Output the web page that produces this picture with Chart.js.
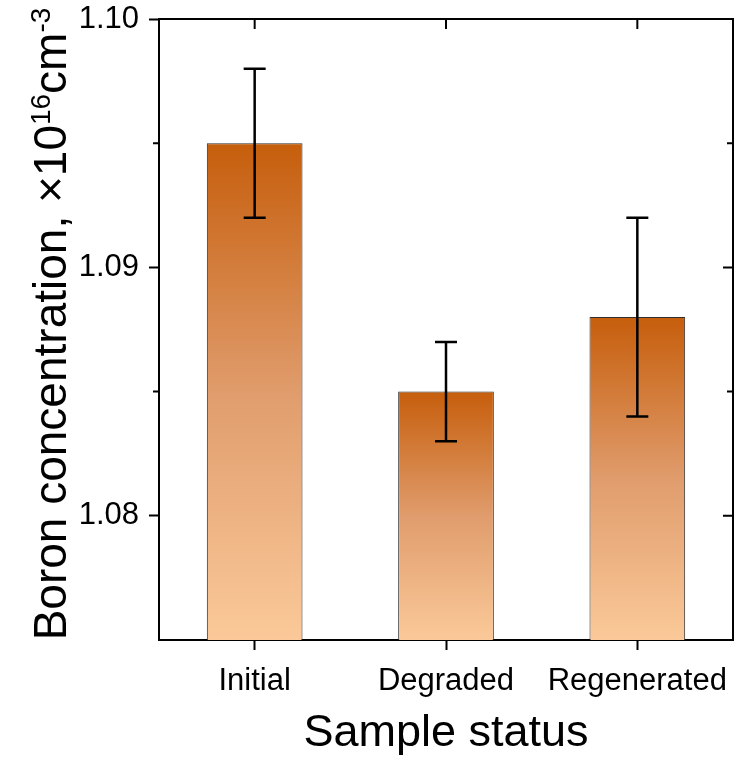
<!DOCTYPE html>
<html lang="en">
<head>
    <meta charset="UTF-8">
    <title>Boron concentration</title>
    <script src="https://cdn.jsdelivr.net/npm/chart.js@4.4.1/dist/chart.umd.min.js"></script>
    <style>
        html, body { margin: 0; padding: 0; background: #fff; }
        #wrap { width: 739px; height: 761px; }
    </style>
</head>
<body>
    <div id="wrap"><canvas id="paint" width="739" height="761"></canvas></div>
    <script>
        var categories = ["Initial", "Degraded", "Regenerated"]
        var boron = [1.095, 1.085, 1.088]
        var boronErr = [0.003, 0.002, 0.004]
        var majorTicks = [1.08, 1.09, 1.10]
        var minorTicks = [1.085, 1.095]

        var FONT = 'Arial, "Liberation Sans", sans-serif'
        Chart.defaults.font.family = FONT
        Chart.defaults.color = "#000"

        // bar fill: dark orange on top fading to peach at the base
        function barFill(c) {
            var chart = c.chart, y = chart.scales.y
            if (!y || c.type !== "data") return "#c8620f"
            var top = y.getPixelForValue(c.raw)
            var bottom = y.getPixelForValue(y.min)
            if (!isFinite(top) || !isFinite(bottom) || top === bottom) return "#c8620f"
            var g = chart.ctx.createLinearGradient(0, top, 0, bottom)
            g.addColorStop(0, "#c65e0c")
            g.addColorStop(0.5, "#e09c6c")
            g.addColorStop(1, "#fbc999")
            return g
        }

        // error bars, mirrored frame ticks and the y title with superscripts
        var decorations = {
            id: "decorations",
            afterDatasetsDraw: function (chart) {
                var ctx = chart.ctx, y = chart.scales.y
                var meta = chart.getDatasetMeta(0)
                ctx.save()
                ctx.strokeStyle = "#000"
                ctx.lineWidth = 2.5
                for (var i = 0; i < boron.length; i++) {
                    var x = meta.data[i].x
                    var hi = y.getPixelForValue(boron[i] + boronErr[i])
                    var lo = y.getPixelForValue(boron[i] - boronErr[i])
                    ctx.beginPath()
                    ctx.moveTo(x, hi); ctx.lineTo(x, lo)
                    ctx.moveTo(x - 11, hi); ctx.lineTo(x + 11, hi)
                    ctx.moveTo(x - 11, lo); ctx.lineTo(x + 11, lo)
                    ctx.stroke()
                }
                ctx.restore()
            },
            afterDraw: function (chart) {
                var ctx = chart.ctx, a = chart.chartArea
                var y = chart.scales.y, xs = chart.scales.x
                ctx.save()
                ctx.strokeStyle = "#000"
                ctx.lineWidth = 2
                ctx.beginPath()
                ctx.moveTo(a.left - 1, a.top); ctx.lineTo(a.right, a.top)
                ctx.moveTo(a.right, a.top - 1); ctx.lineTo(a.right, a.bottom + 1)
                majorTicks.forEach(function (v) {
                    var p = y.getPixelForValue(v)
                    ctx.moveTo(a.right, p); ctx.lineTo(a.right - 10, p)
                })
                minorTicks.forEach(function (v) {
                    var p = y.getPixelForValue(v)
                    ctx.moveTo(a.left, p); ctx.lineTo(a.left - 6, p)
                    ctx.moveTo(a.right, p); ctx.lineTo(a.right - 6, p)
                })
                categories.forEach(function (c, i) {
                    var p = xs.getPixelForValue(i)
                    ctx.moveTo(p, a.top); ctx.lineTo(p, a.top + 10)
                })
                ctx.stroke()

                // rotated y title
                var big = "46px " + FONT, small = "28px " + FONT
                var parts = [
                    ["Boron concentration, \u00d710", big, 0],
                    ["16", small, 16],
                    ["cm", big, 0],
                    ["-3", small, 16]
                ]
                var total = 0
                parts.forEach(function (p) { ctx.font = p[1]; p.push(ctx.measureText(p[0]).width); total += p[3] })
                ctx.translate(66, 324)
                ctx.rotate(-Math.PI / 2)
                ctx.fillStyle = "#000"
                ctx.textBaseline = "alphabetic"
                ctx.textAlign = "left"
                var cx = -total / 2
                parts.forEach(function (p) {
                    ctx.font = p[1]
                    ctx.fillText(p[0], cx, -p[2])
                    cx += p[3]
                })
                ctx.restore()
            }
        }

        var ctx = document.getElementById("paint").getContext("2d")
        var chart = new Chart(ctx, {
            type: "bar",
            data: {
                labels: categories,
                datasets: [{
                    data: boron,
                    backgroundColor: barFill,
                    borderColor: "#2e2e2e",
                    borderWidth: 1,
                    borderSkipped: false,
                    barPercentage: 0.5,
                    categoryPercentage: 1
                }]
            },
            options: {
                responsive: false,
                animation: false,
                layout: { padding: { top: 19, right: 6, left: 0, bottom: 0 } },
                plugins: { legend: { display: false }, tooltip: { enabled: false } },
                scales: {
                    x: {
                        offset: true,
                        grid: { display: true, offset: false, drawOnChartArea: false, drawTicks: true, tickLength: 10, tickWidth: 2, tickColor: "#000" },
                        border: { display: true, color: "#000", width: 2 },
                        ticks: { font: { size: 31 }, padding: 13, maxRotation: 0 },
                        title: { display: true, text: "Sample status", font: { size: 45 }, padding: { top: 0, bottom: 0 } },
                        afterFit: function (s) { s.height = 121; s.paddingLeft = 0; s.paddingRight = 0 }
                    },
                    y: {
                        min: 1.075,
                        max: 1.10,
                        grid: { display: true, drawOnChartArea: false, drawTicks: true, tickLength: 10, tickWidth: 2, tickColor: "#000" },
                        border: { display: true, color: "#000", width: 2 },
                        ticks: { font: { size: 31 }, padding: 10, callback: function (v) { return Number(v).toFixed(2) } },
                        afterBuildTicks: function (s) { s.ticks = majorTicks.map(function (v) { return { value: v } }) },
                        afterFit: function (s) { s.width = 159; s.paddingTop = 0; s.paddingBottom = 0 }
                    }
                }
            },
            plugins: [decorations]
        })
    </script>
</body>
</html>
